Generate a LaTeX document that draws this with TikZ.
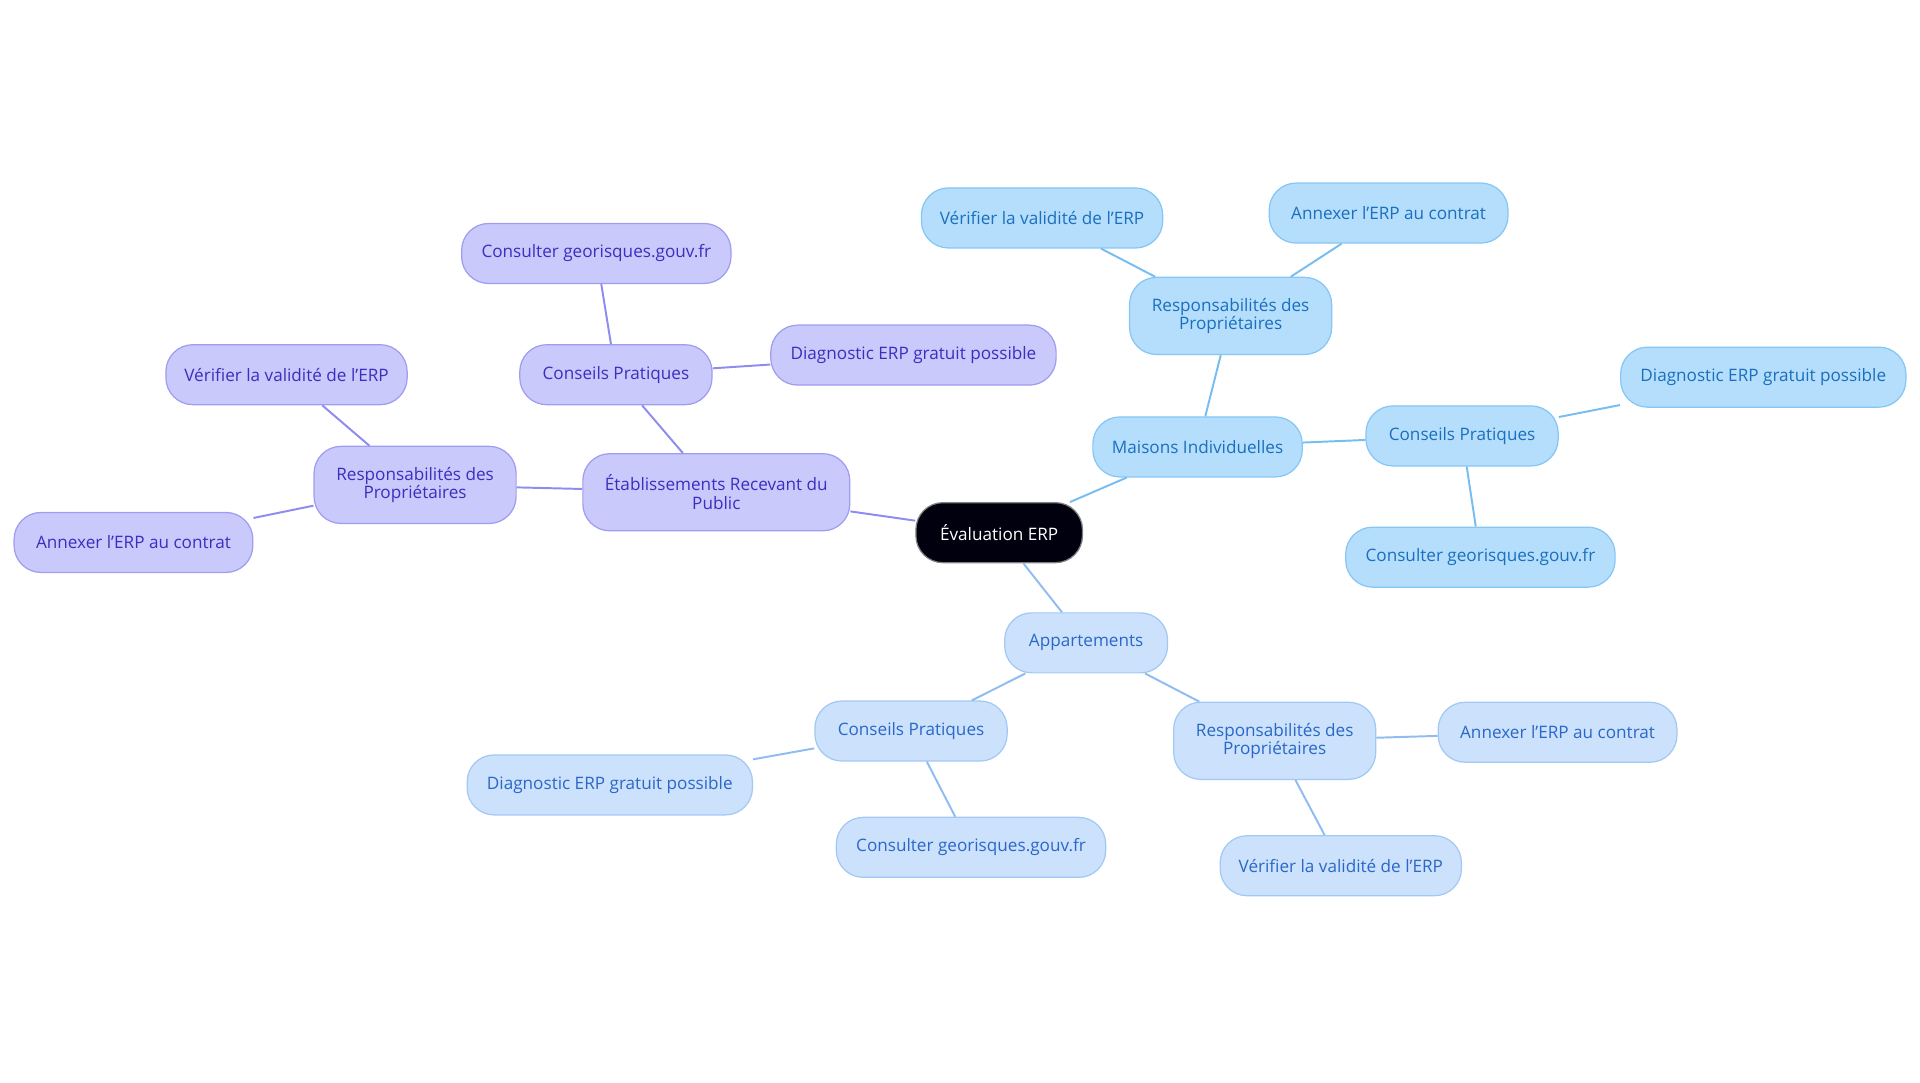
\documentclass[tikz,border=0pt]{standalone}
\usepackage{fontspec}
\setmainfont{Open Sans}
\begin{document}
\begin{tikzpicture}[x=0.5pt,y=-0.5pt]
\definecolor{pf}{HTML}{C9C9FB}\definecolor{pd}{HTML}{A09CF0}\definecolor{pt}{HTML}{3B2FC0}\definecolor{pl}{HTML}{8F8CF0}
\definecolor{mf}{HTML}{B4DEFC}\definecolor{md}{HTML}{86C6F4}\definecolor{mt}{HTML}{1B6FBE}\definecolor{ml}{HTML}{78BDF0}
\definecolor{af}{HTML}{CCE1FB}\definecolor{ad}{HTML}{A2C8F4}\definecolor{at}{HTML}{2A68C8}\definecolor{al}{HTML}{8FBDF0}
\tikzset{box/.style={rounded corners=11pt,minimum height=24.5pt,font=\fontsize{7}{7.5}\selectfont,align=center,inner sep=2pt,line width=0.5pt},
 pb/.style={box,fill=pf,draw=pd,text=pt},mb/.style={box,fill=mf,draw=md,text=mt},ab/.style={box,fill=af,draw=ad,text=at},
 two/.style={minimum height=31.5pt},
 pe/.style={draw=pl,line width=0.8pt},me/.style={draw=ml,line width=0.8pt},ae/.style={draw=al,line width=0.8pt}}
\useasboundingbox (0,0) rectangle (1568,884);
\node[box,fill=black!90!blue!60!black,draw=gray,text=white,minimum width=68pt] (c) at (816,435) {Évaluation ERP};
\node[pb,two,minimum width=109pt] (p) at (585,402) {Établissements Recevant du\\Public};
\node[pb,minimum width=78.5pt] (pcp) at (503,306) {Conseils Pratiques};
\node[pb,minimum width=110pt] (pco) at (487,207) {Consulter georisques.gouv.fr};
\node[pb,minimum width=116.5pt] (pdi) at (746,290) {Diagnostic ERP gratuit possible};
\node[pb,two,minimum width=82.5pt] (pr) at (339,396) {Responsabilités des\\Propriétaires};
\node[pb,minimum width=98.5pt] (pv) at (234,306) {Vérifier la validité de l'ERP};
\node[pb,minimum width=97.5pt] (pa) at (109,443) {Annexer l'ERP au contrat};
\node[mb,minimum width=85.5pt] (m) at (978,365) {Maisons Individuelles};
\node[mb,two,minimum width=82.5pt] (mr) at (1005,258) {Responsabilités des\\Propriétaires};
\node[mb,minimum width=98.5pt] (mv) at (851,178) {Vérifier la validité de l'ERP};
\node[mb,minimum width=97.5pt] (ma) at (1134,174) {Annexer l'ERP au contrat};
\node[mb,minimum width=78.5pt] (mcp) at (1194,356) {Conseils Pratiques};
\node[mb,minimum width=116.5pt] (mdi) at (1440,308) {Diagnostic ERP gratuit possible};
\node[mb,minimum width=110pt] (mco) at (1209,455) {Consulter georisques.gouv.fr};
\node[ab,minimum width=66.5pt] (a) at (887,525) {Appartements};
\node[ab,minimum width=78.5pt] (acp) at (744,597) {Conseils Pratiques};
\node[ab,minimum width=116.5pt] (adi) at (498,641) {Diagnostic ERP gratuit possible};
\node[ab,minimum width=110pt] (aco) at (793,692) {Consulter georisques.gouv.fr};
\node[ab,two,minimum width=82.5pt] (ar) at (1041,605) {Responsabilités des\\Propriétaires};
\node[ab,minimum width=97.5pt] (aa) at (1272,598) {Annexer l'ERP au contrat};
\node[ab,minimum width=98.5pt] (av) at (1095,707) {Vérifier la validité de l'ERP};
\begin{scope}[on background layer/.style={}]
\end{scope}
\path[pe] (c)--(p) (p)--(pcp) (pcp)--(pco) (pcp)--(pdi) (p)--(pr) (pr)--(pv) (pr)--(pa);
\path[me] (c)--(m) (m)--(mr) (mr)--(mv) (mr)--(ma) (m)--(mcp) (mcp)--(mdi) (mcp)--(mco);
\path[ae] (c)--(a) (a)--(acp) (acp)--(adi) (acp)--(aco) (a)--(ar) (ar)--(aa) (ar)--(av);
\end{tikzpicture}
\end{document}
